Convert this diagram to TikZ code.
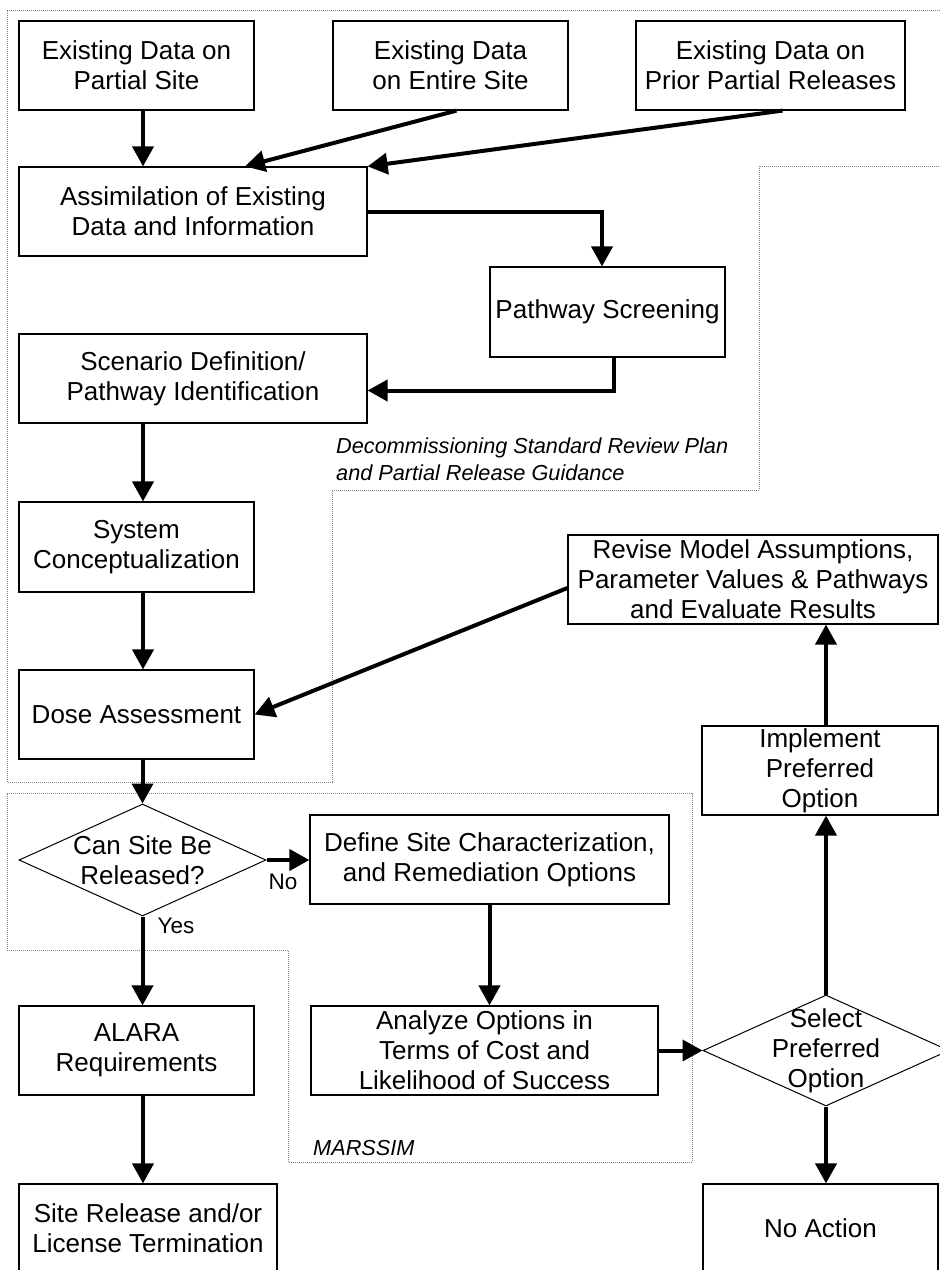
\documentclass[tikz,border=0pt]{standalone}
\usepackage{fontspec}
\setmainfont{Liberation Sans}
\usetikzlibrary{arrows.meta,shapes.geometric}
\begin{document}
\begin{tikzpicture}[x=1pt,y=-1pt,
  box/.style={draw,line width=1.2pt,align=center,inner sep=0pt,font=\fontsize{26}{30}\selectfont},
  dia/.style={draw,line width=1pt,shape=diamond,inner sep=0pt},
  diatext/.style={align=center,font=\fontsize{26}{30}\selectfont},
  arr/.style={line width=4pt,-{Triangle[length=20pt,width=21pt]}},
  region/.style={draw=gray,line width=1pt,dash pattern=on 1pt off 1pt},
  lab/.style={font=\fontsize{22.5}{26}\selectfont,inner sep=0pt},
  note/.style={font=\fontsize{21.7}{27}\selectfont\itshape,align=left,inner sep=0pt,anchor=west}]
\useasboundingbox (0,0) rectangle (940,1270);
\clip (0,0) rectangle (940,1270);
\fill[white] (0,0) rectangle (940,1270);

% dotted regions
\draw[region] (7,10) -- (948,10) -- (948,166) -- (759,166) -- (759,490) -- (332,490) -- (332,782) -- (7,782) -- cycle;
\draw[region] (7,793) -- (692,793) -- (692,1162) -- (288,1162) -- (288,950) -- (7,950) -- cycle;

% boxes
\node[box,minimum width=235pt,minimum height=89pt] (b1) at (136.5,65.5) {Existing Data on\\Partial Site};
\node[box,minimum width=235pt,minimum height=89pt] (b2) at (450.5,65.5) {Existing Data\\on Entire Site};
\node[box,minimum width=269pt,minimum height=89pt] (b3) at (770.5,65.5) {Existing Data on\\Prior Partial Releases};
\node[box,minimum width=348pt,minimum height=89pt] (assim) at (193,211.5) {Assimilation of Existing\\Data and Information};
\node[box,minimum width=235pt,minimum height=90pt] (ps) at (607.5,312) {Pathway Screening};
\node[box,minimum width=348pt,minimum height=89pt] (scen) at (193,378.5) {Scenario Definition/\\Pathway Identification};
\node[box,minimum width=235pt,minimum height=90pt] (sys) at (136.5,547) {System\\Conceptualization};
\node[box,minimum width=235pt,minimum height=89pt] (dose) at (136.5,714.5) {Dose Assessment};
\node[box,minimum width=370pt,minimum height=89pt] (rev) at (753,579.5) {Revise Model Assumptions,\\Parameter Values \& Pathways\\and Evaluate Results};
\node[box,minimum width=236pt,minimum height=89pt] (impl) at (820,770.5) {Implement\\Preferred\\Option};
\node[dia,minimum width=247pt,minimum height=112pt,label={[diatext]center:{Can Site Be\\Released?}}] (can) at (142.5,860) {};
\node[box,minimum width=359pt,minimum height=89pt] (def) at (489.5,859.5) {Define Site Characterization,\\and Remediation Options};
\node[box,minimum width=347pt,minimum height=89pt] (anal) at (484.5,1050.5) {Analyze Options in\\Terms of Cost and\\Likelihood of Success};
\node[dia,minimum width=246pt,minimum height=111pt,label={[diatext]center:{Select\\Preferred\\Option}}] (sel) at (826,1050.5) {};
\node[box,minimum width=235pt,minimum height=89pt] (alara) at (136.5,1050.5) {ALARA\\Requirements};
\node[box,minimum width=258pt,minimum height=89pt] (srel) at (148,1228.5) {Site Release and/or\\License Termination};
\node[box,minimum width=235pt,minimum height=89pt] (noact) at (820.5,1228.5) {No Action};

% labels
\node[lab] (no) at (283,882) {No};
\node[lab] (yes) at (176,926) {Yes};
\node[note] (dsrp) at (336,459) {Decommissioning Standard Review Plan\\and Partial Release Guidance};
\node[note] (mars) at (313,1148) {MARSSIM};

% connectors
\draw[arr] ([xshift=6.5pt]b1.south) -- ([xshift=6.5pt]b1.south |- assim.north);
\draw[arr] ([xshift=6pt]b2.south) -- ([xshift=52pt]assim.north);
\draw[arr] ([xshift=12pt]b3.south) -- (assim.north east);
\draw[arr] (assim.east) -| ([xshift=-5.5pt]ps.north);
\draw[arr] ([xshift=6pt]ps.south) |- ([yshift=-12pt]scen.east);
\draw[arr] ([xshift=6.5pt]sys.north |- scen.south) -- ([xshift=6.5pt]sys.north);
\draw[arr] ([xshift=6.5pt]sys.south) -- ([xshift=6.5pt]dose.north);
\draw[arr] ([yshift=-8.5pt]rev.west) -- (dose.east);
\draw[arr] ([xshift=6pt]dose.south) -- (can.north);
\draw[arr] (can.east) -- (can.east -| def.west);
\draw[arr] (can.south) -- (can.south |- alara.north);
\draw[arr] ([xshift=6.5pt]alara.south) -- ([xshift=6.5pt]alara.south |- srel.north);
\draw[arr] (def.south) -- (def.south |- anal.north);
\draw[arr] (anal.east) -- (sel.west);
\draw[arr] (sel.north) -- (sel.north |- impl.south);
\draw[arr] ([xshift=6pt]impl.north) -- ([xshift=6pt]impl.north |- rev.south);
\draw[arr] (sel.south) -- (sel.south |- noact.north);
\end{tikzpicture}
\end{document}
